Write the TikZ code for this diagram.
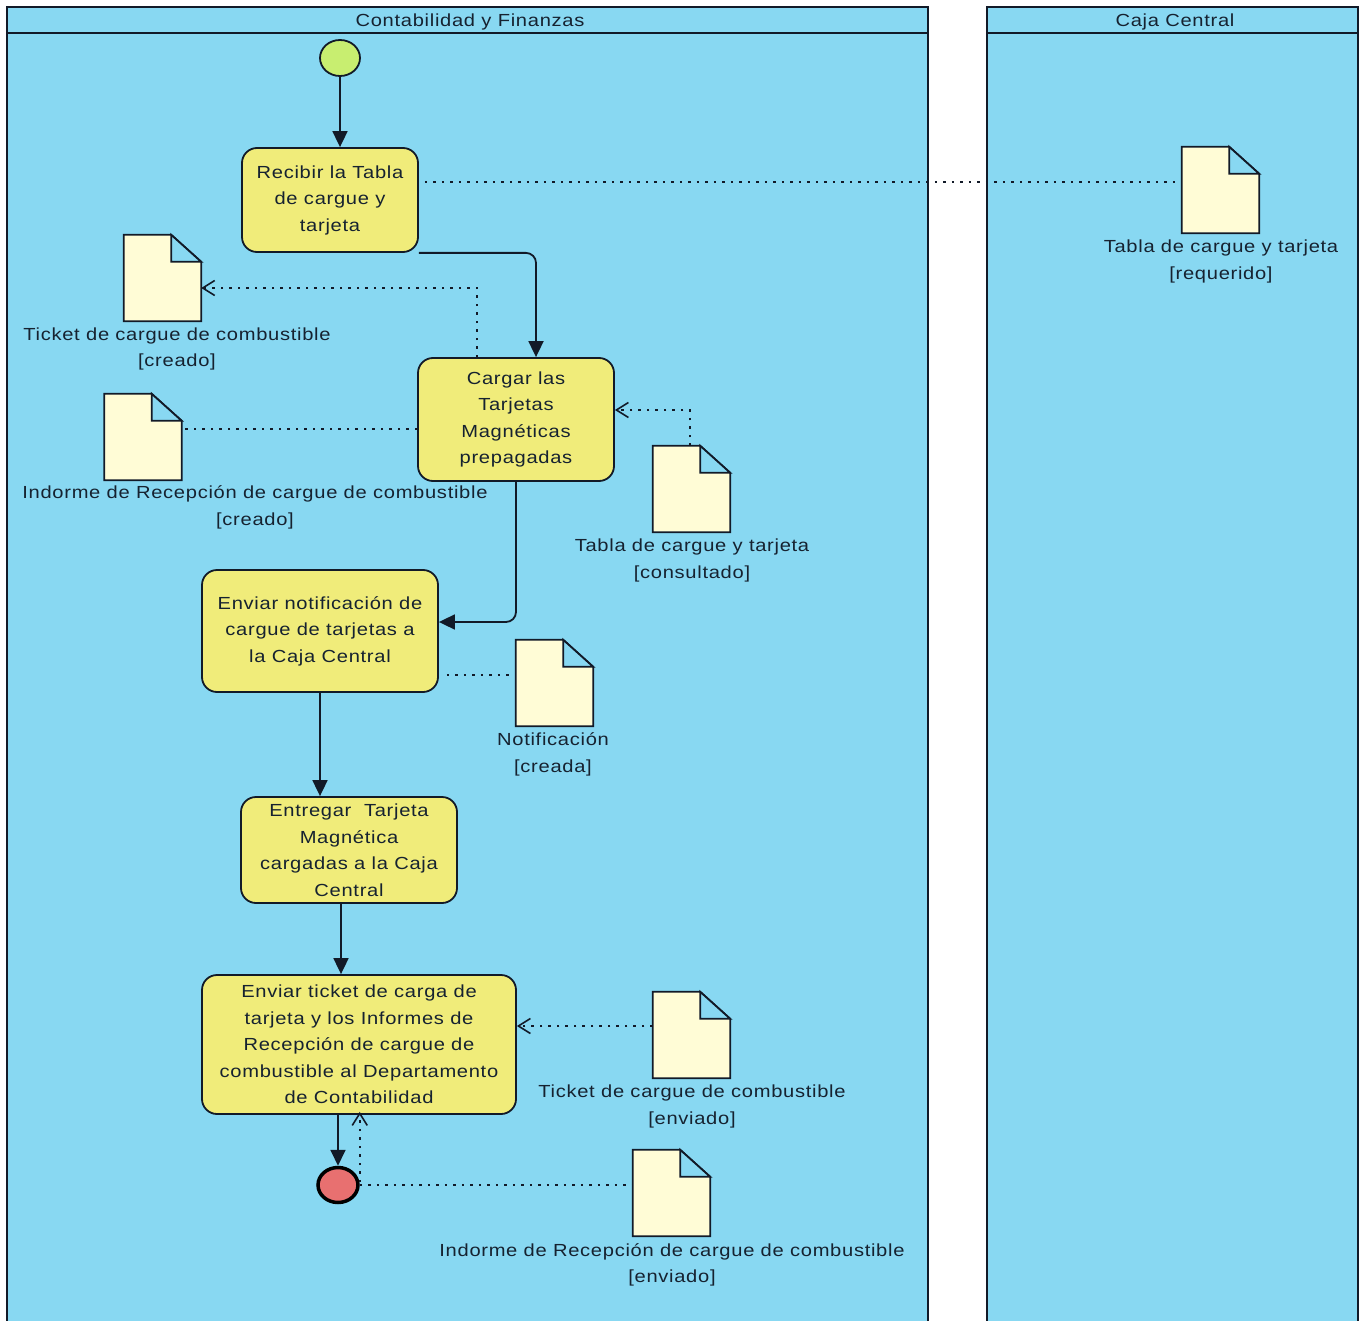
\documentclass[tikz,border=0pt]{standalone}
\usepackage{fontspec}
\usetikzlibrary{arrows.meta,calc,shapes.geometric}
\newfontfamily\vpfont[FakeStretch=1.15,LetterSpace=4]{Liberation Sans}
\definecolor{lanefill}{RGB}{136,216,242}
\definecolor{actfill}{RGB}{240,236,122}
\definecolor{startfill}{RGB}{200,238,112}
\definecolor{endfill}{RGB}{232,112,112}
\definecolor{docfill}{RGB}{255,252,214}
\definecolor{inkline}{RGB}{18,26,40}
\definecolor{inktext}{RGB}{22,34,48}
\tikzset{
  lane/.style={draw=inkline,line width=1.8pt,fill=lanefill},
  lanetitle/.style={font=\vpfont\fontsize{17.5}{20}\selectfont,text=inktext,inner sep=0pt},
  action/.style={draw=inkline,line width=1.8pt,fill=actfill,rounded corners=15pt,align=center,
    font=\vpfont\fontsize{17.5}{26.5}\selectfont,text=inktext,inner sep=0pt},
  startnode/.style={draw=inkline,line width=1.8pt,fill=startfill,ellipse,inner sep=0pt},
  endnode/.style={draw=black,line width=3.5pt,fill=endfill,ellipse,inner sep=0pt},
  docbox/.style={minimum width=77pt,minimum height=86pt,inner sep=0pt},
  docline/.style={draw=inkline,line width=1.8pt,fill=docfill,line join=miter},
  foldline/.style={draw=inkline,line width=1.8pt,fill=lanefill,line join=miter},
  doclabel/.style={align=center,font=\vpfont\fontsize{17.5}{26.5}\selectfont,text=inktext,inner sep=0pt},
  flow/.style={draw=inkline,line width=1.8pt,-{Triangle[length=16pt,width=15pt]}},
  objflow/.style={draw=inkline,line width=1.6pt,dash pattern=on 2.5pt off 6pt,-{Straight Barb[length=12pt,width=15pt,line width=1.6pt]}},
  objlink/.style={draw=inkline,line width=1.6pt,dash pattern=on 2.5pt off 6pt},
}
\newcommand{\docshape}[3]{%
  \node[docbox] (#1) at (#2,#3) {};
  \path[docline] (#1.north west) -- ([xshift=-30pt]#1.north east) -- ([yshift=-27pt]#1.north east) -- (#1.south east) -- (#1.south west) -- cycle;
  \path[foldline] ([xshift=-30pt]#1.north east) -- ([xshift=-30pt,yshift=-27pt]#1.north east) -- ([yshift=-27pt]#1.north east) -- cycle;
}
\begin{document}
\begin{tikzpicture}[x=1pt,y=-1pt]
\useasboundingbox[fill=white] (0,0) rectangle (1359,1321);
% lanes
\path[lane] (7,7) rectangle (928,1340);
\draw[draw=inkline,line width=1.8pt] (7,33) -- (928,33);
\node[lanetitle] (t1) at (470,21.5) {Contabilidad y Finanzas};
\path[lane] (987,7) rectangle (1358,1340);
\draw[draw=inkline,line width=1.8pt] (987,33) -- (1358,33);
\node[lanetitle] (t2) at (1175,21.5) {Caja Central};

% activity nodes
\node[startnode,minimum width=40pt,minimum height=36pt] (start) at (340,58) {};
\node[action,minimum width=176pt,minimum height=104pt] (recibir) at (330,200) {Recibir la Tabla\\de cargue y\\tarjeta};
\node[action,minimum width=196pt,minimum height=123pt] (cargar) at (516,419.5) {Cargar las\\Tarjetas\\Magnéticas\\prepagadas};
\node[action,minimum width=236pt,minimum height=122pt] (notif) at (320,631) {Enviar notificación de\\cargue de tarjetas a\\la Caja Central};
\node[action,minimum width=216pt,minimum height=106pt] (entregar) at (349,850) {Entregar\ \ Tarjeta\\Magnética\\cargadas a la Caja\\Central};
\node[action,minimum width=314pt,minimum height=139pt] (ticket) at (359,1044.5) {Enviar ticket de carga de\\tarjeta y los Informes de\\Recepción de cargue de\\combustible al Departamento\\de Contabilidad};
\node[endnode,minimum width=40pt,minimum height=35pt] (end) at (338,1185) {};

% documents
\docshape{docA}{1220.5}{190}
\docshape{docB}{162.5}{278}
\docshape{docC}{143}{437}
\docshape{docD}{691.5}{489}
\docshape{docE}{554.5}{683}
\docshape{docF}{691.5}{1035}
\docshape{docG}{671.5}{1193}

\node[doclabel] (labA) at (1221,261.5) {Tabla de cargue y tarjeta\\{}[requerido]};
\node[doclabel] (labB) at (177,349) {Ticket de cargue de combustible\\{}[creado]};
\node[doclabel] (labC) at (255,507.5) {Indorme de Recepción de cargue de combustible\\{}[creado]};
\node[doclabel] (labD) at (692,560.5) {Tabla de cargue y tarjeta\\{}[consultado]};
\node[doclabel] (labE) at (553,754.5) {Notificación\\{}[creada]};
\node[doclabel] (labF) at (692,1106.5) {Ticket de cargue de combustible\\{}[enviado]};
\node[doclabel] (labG) at (672,1265) {Indorme de Recepción de cargue de combustible\\{}[enviado]};

% control flows
\draw[flow] (start.south) -- (start.south |- recibir.north);
\draw[flow,rounded corners=10pt] (recibir.south east) -| ([xshift=20pt]cargar.north);
\draw[flow,rounded corners=10pt] (cargar.south) |- ([yshift=9pt]notif.east);
\draw[flow] (notif.south) -- (notif.south |- entregar.north);
\draw[flow] ([xshift=-8pt]entregar.south) -- ([xshift=-8pt]entregar.south |- ticket.north);
\draw[flow] (end.north |- ticket.south) -- (end.north);

% object flows
\draw[objlink] ([xshift=6pt,yshift=18pt]recibir.east) -- ([yshift=18pt]recibir.east -| docA.west);
\draw[objflow] ([xshift=-39pt]cargar.north) |- ([yshift=-10pt]docB.east);
\draw[objlink] ([yshift=-9.5pt]cargar.west) -- ([yshift=-9.5pt]cargar.west -| docC.east);
\draw[objflow] ([xshift=-1.5pt]docD.north) |- ([yshift=9.5pt]cargar.east);
\draw[objlink] ([xshift=8pt,yshift=-44pt]notif.east) -- ([xshift=-6pt,yshift=-44pt]notif.east -| docE.west);
\draw[objflow] ([yshift=9pt]docF.west) -- ([yshift=9pt]docF.west -| ticket.east);
\draw[objflow] ([yshift=3pt]end.east) -- ([yshift=3pt]end.east |- ticket.south);
\draw[objlink] (end.east) -- (end.east -| docG.west);
\end{tikzpicture}
\end{document}
